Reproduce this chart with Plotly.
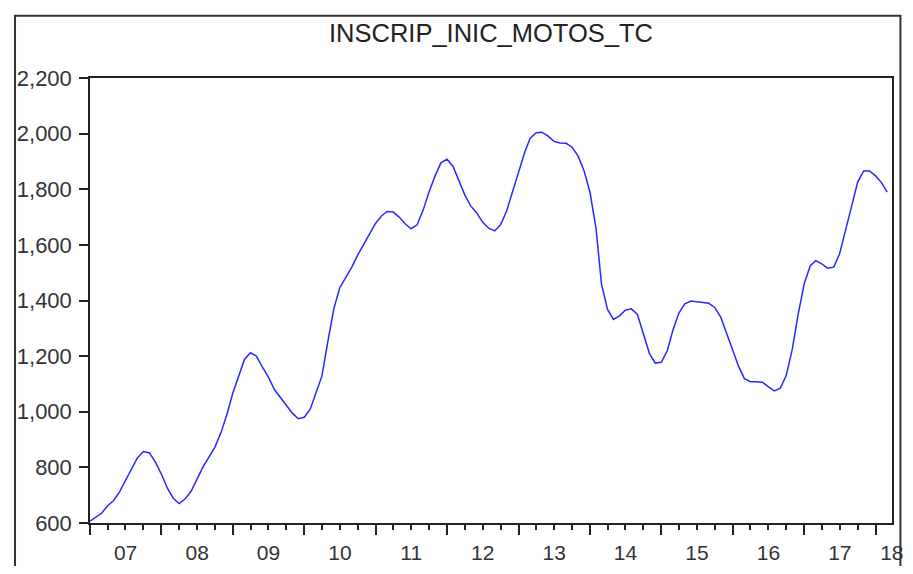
import plotly.graph_objects as go
import pandas as pd

# monthly series, Jan 2007 .. Mar 2018
months = pd.date_range("2007-01-01", "2018-03-01", freq="MS")

values = [
    # 2007
    607, 622, 635, 662, 680, 712, 752, 797, 835, 857, 852, 820,
    # 2008
    776, 725, 690, 670, 686, 714, 760, 802, 838, 873, 925, 990,
    # 2009
    1068, 1135, 1188, 1212, 1200, 1160, 1125, 1080, 1050, 1022, 995, 975,
    # 2010
    980, 1010, 1070, 1128, 1250, 1370, 1445, 1483, 1520, 1563, 1602, 1640,
    # 2011
    1678, 1705, 1720, 1718, 1700, 1676, 1658, 1672, 1725, 1790, 1848, 1895,
    # 2012
    1908, 1882, 1835, 1780, 1740, 1715, 1682, 1660, 1650, 1672, 1722, 1790,
    # 2013
    1860, 1932, 1983, 2003, 2005, 1991, 1972, 1966, 1965, 1952, 1920, 1868,
    # 2014
    1790, 1660, 1460, 1368, 1332, 1345, 1365, 1370, 1350, 1282, 1210, 1175,
    # 2015
    1178, 1220, 1292, 1355, 1388, 1398, 1395, 1393, 1390, 1375, 1340, 1282,
    # 2016
    1225, 1162, 1119, 1108, 1108, 1106, 1090, 1075, 1085, 1130, 1225, 1350,
    # 2017
    1460, 1525, 1543, 1532, 1516, 1520, 1568, 1650, 1740, 1825, 1866, 1866,
    # 2018
    1848, 1823, 1790,
]

title = "INSCRIP_INIC_MOTOS_TC"
y_ticks = [600, 800, 1000, 1200, 1400, 1600, 1800, 2000, 2200]
x_label_pos = ["2007-07-02", "2008-07-02", "2009-07-02", "2010-07-02", "2011-07-02",
               "2012-07-02", "2013-07-02", "2014-07-02", "2015-07-02", "2016-07-02",
               "2017-07-02", "2018-03-25"]
x_label_txt = ["07", "08", "09", "10", "11", "12", "13", "14", "15", "16", "17", "18"]

x_range = ["2007-01-01", "2018-03-26"]
font = "Liberation Sans, Arial, sans-serif"

fig = go.Figure()

fig.add_trace(go.Scatter(
    x=months, y=values,
    mode="lines",
    line=dict(color="rgb(40,40,255)", width=1.5),
    showlegend=False,
))

# invisible trace on the label axis so it gets drawn
fig.add_trace(go.Scatter(
    x=[months[0]], y=[values[0]], xaxis="x2",
    mode="lines", line=dict(width=0), showlegend=False, hoverinfo="skip",
))

# the page has an 8px body margin, so keep the figure inside the window
fig.update_layout(
    width=897, height=558,
    margin=dict(l=82, r=2, t=70, b=31),
    paper_bgcolor="white",
    plot_bgcolor="white",
    font=dict(family=font, color="#333333"),
    xaxis=dict(
        type="date",
        range=x_range,
        tickmode="linear",
        tick0="2007-01-01",
        dtick="M12",
        ticks="outside",
        ticklen=10,
        tickwidth=1.5,
        tickcolor="#222222",
        showticklabels=False,
        minor=dict(dtick="M3", tick0="2007-01-01", ticks="outside",
                   ticklen=5, tickwidth=1.5, tickcolor="#222222", showgrid=False),
        showgrid=False,
        zeroline=False,
        showline=True,
        linecolor="#222222",
        linewidth=1.5,
        mirror=True,
    ),
    xaxis2=dict(
        type="date",
        overlaying="x",
        matches="x",
        anchor="y",
        side="bottom",
        tickmode="array",
        tickvals=x_label_pos,
        ticktext=x_label_txt,
        ticks="",
        ticklabelstandoff=15,
        ticklabeloverflow="allow",
        tickfont=dict(size=21, family=font, color="#333333"),
        showgrid=False,
        zeroline=False,
        showline=False,
    ),
    yaxis=dict(
        range=[600, 2200],
        tickmode="array",
        tickvals=y_ticks,
        tickformat=",",
        ticks="outside",
        ticklen=9,
        tickwidth=1.5,
        tickcolor="#222222",
        ticklabelstandoff=3,
        tickfont=dict(size=22, family=font, color="#333333"),
        showgrid=False,
        zeroline=False,
        showline=True,
        linecolor="#222222",
        linewidth=1.5,
        mirror=True,
    ),
    annotations=[dict(
        text=title, xref="paper", yref="paper",
        x=0.5, y=1.1007, xanchor="center", yanchor="middle",
        showarrow=False, font=dict(size=25.5, family=font, color="#222222"),
    )],
    shapes=[dict(
        type="rect", xref="paper", yref="paper",
        x0=-0.0935, x1=1.0105, y0=-0.2, y1=1.140,
        line=dict(color="#333333", width=2),
        layer="below",
    )],
)

fig.write_html("out.html", config={"displayModeBar": False})
